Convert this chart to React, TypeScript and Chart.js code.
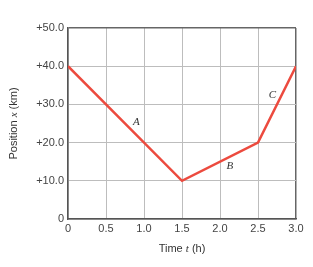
import React, { useEffect, useRef } from "react";
import { Chart, registerables } from "chart.js";

Chart.register(...registerables);

const times = [0, 1.5, 2.5, 3.0];
const positions = [40, 10, 20, 40];
const segmentLabels = ["A", "B", "C"];
const labelTimes = [0.9, 2.13, 2.69];
const labelPositions = [25.4, 13.9, 32.5];
const yTickValues = [0, 10, 20, 30, 40, 50];
const xTickValues = [0, 0.5, 1.0, 1.5, 2.0, 2.5, 3.0];

const FONT = "'Liberation Sans', Arial, sans-serif";

const overlayPlugin = {
  id: "overlay",
  afterDatasetsDraw(chart: any) {
    const ctx = chart.ctx;
    const xs = chart.scales.x;
    const ys = chart.scales.y;
    ctx.save();
    // segment labels
    ctx.fillStyle = "#333";
    ctx.font = "italic 11px 'Liberation Serif', 'Times New Roman', serif";
    ctx.textAlign = "center";
    ctx.textBaseline = "middle";
    segmentLabels.forEach((l, i) => {
      ctx.fillText(l, xs.getPixelForValue(labelTimes[i]), ys.getPixelForValue(labelPositions[i]));
    });
    // axis titles with italic variable
    const drawMixed = (parts: [string, boolean][], cx: number, cy: number, rot: number) => {
      ctx.save();
      ctx.translate(cx, cy);
      ctx.rotate(rot);
      const fonts = parts.map(([, it]) => (it ? "italic 11px 'Liberation Serif', serif" : `11px ${FONT}`));
      let total = 0;
      const widths = parts.map(([t], i) => {
        ctx.font = fonts[i];
        const w = ctx.measureText(t).width;
        total += w;
        return w;
      });
      let x = -total / 2;
      ctx.textAlign = "left";
      ctx.textBaseline = "middle";
      ctx.fillStyle = "#333";
      parts.forEach(([t], i) => {
        ctx.font = fonts[i];
        ctx.fillText(t, x, 0);
        x += widths[i];
      });
      ctx.restore();
    };
    const ca = chart.chartArea;
    drawMixed([["Time ", false], ["t", true], [" (h)", false]], (ca.left + ca.right) / 2, 249, 0);
    drawMixed([["Position ", false], ["x", true], [" (km)", false]], 14, (ca.top + ca.bottom) / 2, -Math.PI / 2);
    ctx.restore();
  },
};

export default function App() {
  const ref = useRef<HTMLCanvasElement>(null);
  useEffect(() => {
    if (!ref.current) return;
    const chart = new Chart(ref.current, {
      type: "line",
      data: {
        datasets: [
          {
            data: times.map((t, i) => ({ x: t, y: positions[i] })),
            borderColor: "#ec4a3e",
            borderWidth: 2.5,
            pointRadius: 0,
            tension: 0,
            fill: false,
          },
        ],
      },
      options: {
        animation: false,
        responsive: false,
        maintainAspectRatio: false,
        events: [],
        layout: { padding: { top: 28, right: 17, left: 0, bottom: 0 } },
        plugins: { legend: { display: false }, tooltip: { enabled: false } },
        scales: {
          x: {
            type: "linear",
            min: 0,
            max: 3,
            afterBuildTicks: (s: any) => {
              s.ticks = xTickValues.map((v) => ({ value: v }));
            },
            afterFit: (s: any) => {
              s.height = 48;
            },
            ticks: {
              callback: (v: any) => (v === 0 ? "0" : Number(v).toFixed(1)),
              color: "#444",
              font: { size: 11, family: FONT },
              padding: 3,
              maxRotation: 0,
            },
            grid: {
              drawTicks: false,
              color: (c: any) => (c.tick && c.tick.value === 3 ? "#666" : "#bdbdbd"),
              lineWidth: (c: any) => (c.tick && c.tick.value === 3 ? 1.5 : 1),
            },
            border: { display: true, color: "#555", width: 1.5 },
          },
          y: {
            type: "linear",
            min: 0,
            max: 50,
            afterBuildTicks: (s: any) => {
              s.ticks = yTickValues.map((v) => ({ value: v }));
            },
            afterFit: (s: any) => {
              s.width = 68;
            },
            ticks: {
              callback: (v: any) => (v === 0 ? "0" : "+" + Number(v).toFixed(1)),
              color: "#444",
              font: { size: 11, family: FONT },
              padding: 4,
            },
            grid: {
              drawTicks: false,
              color: (c: any) => (c.tick && c.tick.value === 50 ? "#666" : "#bdbdbd"),
              lineWidth: (c: any) => (c.tick && c.tick.value === 50 ? 1.5 : 1),
            },
            border: { display: true, color: "#555", width: 1.5 },
          },
        },
      },
      plugins: [overlayPlugin],
    } as any);
    return () => chart.destroy();
  }, []);
  return (
    <div style={{ position: "fixed", left: 0, top: 0, width: 313, height: 267, background: "#fff" }}>
      <canvas ref={ref} width={313} height={267} style={{ width: 313, height: 267, display: "block" }} />
    </div>
  );
}
